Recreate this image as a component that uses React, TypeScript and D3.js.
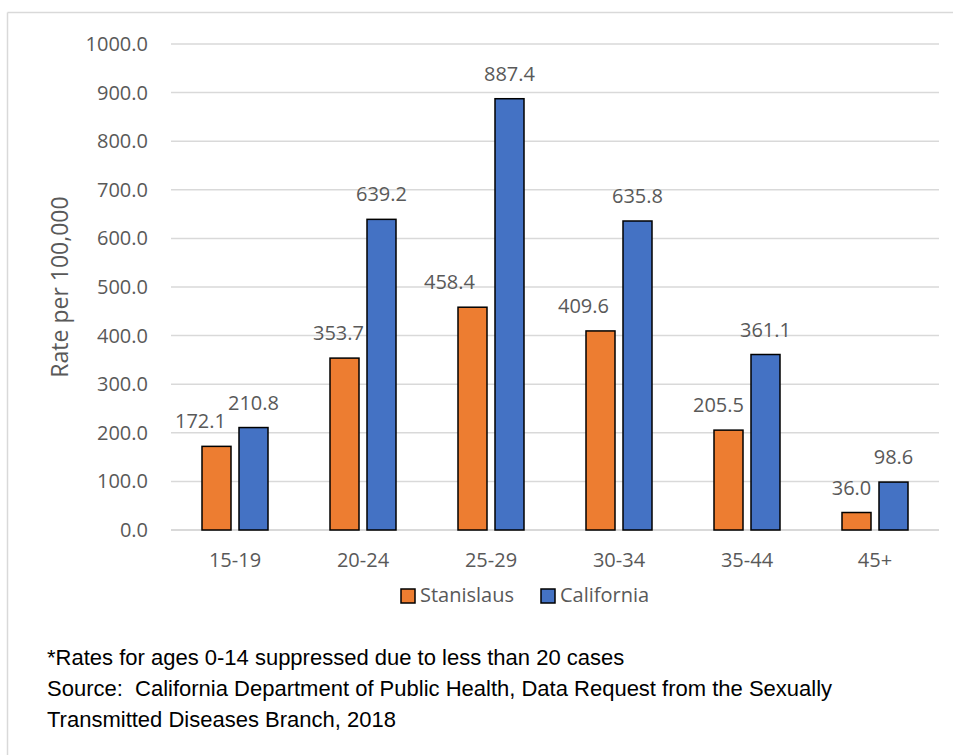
import React from "react";
import * as d3 from "d3";

const categories = ["15-19", "20-24", "25-29", "30-34", "35-44", "45+"];
const seriesNames = ["Stanislaus", "California"];
const stanislaus = [172.1, 353.7, 458.4, 409.6, 205.5, 36.0];
const california = [210.8, 639.2, 887.4, 635.8, 361.1, 98.6];
const yTicks = [0, 100, 200, 300, 400, 500, 600, 700, 800, 900, 1000];
const colors = ["#ED7D31", "#4472C4"];
const stanislausLabelShift = [-16, -6, -23, -17, -10, -5];
const footnotes = [
  "*Rates for ages 0-14 suppressed due to less than 20 cases",
  "Source:  California Department of Public Health, Data Request from the Sexually",
  "Transmitted Diseases Branch, 2018",
];

const W = 953;
const H = 755;
const plot = { left: 171, right: 939, top: 44, bottom: 530 };
const font = "'Open Sans', sans-serif";
const grey = "#595959";

export default function App() {
  const x0 = d3.scaleBand<string>().domain(categories).range([plot.left, plot.right]).padding(0);
  const x1 = d3
    .scaleBand<string>()
    .domain(seriesNames)
    .range([27, 101])
    .paddingInner(8 / 37)
    .paddingOuter(4 / 37);
  const y = d3.scaleLinear().domain([0, 1000]).range([plot.bottom, plot.top]);
  const values = [stanislaus, california];
  const bw = x1.bandwidth();

  return (
    <svg width={W} height={H} style={{ position: "absolute", left: 0, top: 0, background: "#fff" }}>
      <rect x={0} y={0} width={W} height={H} fill="#fff" />
      {/* frame */}
      <line x1={7.5} x2={W} y1={12.5} y2={12.5} stroke="#d9d9d9" strokeWidth={1.5} />
      <line x1={7.5} x2={7.5} y1={12.5} y2={H} stroke="#d9d9d9" strokeWidth={1.5} />
      {/* gridlines */}
      {yTicks.map((t) => (
        <line
          key={t}
          x1={plot.left}
          x2={plot.right}
          y1={y(t)}
          y2={y(t)}
          stroke="#d9d9d9"
          strokeWidth={t === 0 ? 2 : 1.5}
        />
      ))}
      {yTicks.map((t) => (
        <text
          key={"l" + t}
          x={148}
          y={y(t)}
          dy="0.35em"
          textAnchor="end"
          fontFamily={font}
          fontSize={20}
          fill={grey}
        >
          {t.toFixed(1)}
        </text>
      ))}
      <text
        transform={`translate(68,287) rotate(-90)`}
        textAnchor="middle"
        fontFamily={font}
        fontSize={23}
        fill={grey}
      >
        Rate per 100,000
      </text>
      {/* bars */}
      {categories.map((c, i) => (
        <g key={c}>
          {seriesNames.map((s, j) => {
            const v = values[j][i];
            const bx = (x0(c) as number) + (x1(s) as number);
            return (
              <rect
                key={s}
                x={bx}
                y={y(v)}
                width={bw}
                height={y(0) - y(v)}
                fill={colors[j]}
                stroke="#000"
                strokeWidth={1.5}
              />
            );
          })}
          <text
            x={(x0(c) as number) + x0.bandwidth() / 2}
            y={567}
            textAnchor="middle"
            fontFamily={font}
            fontSize={20}
            fill={grey}
          >
            {c}
          </text>
        </g>
      ))}
      {/* data labels, on top of all bars */}
      {categories.map((c, i) =>
        seriesNames.map((s, j) => {
          const v = values[j][i];
          const bx = (x0(c) as number) + (x1(s) as number);
          return (
            <text
              key={c + s}
              x={bx + bw / 2 + (j === 0 ? stanislausLabelShift[i] : 0)}
              y={y(v) - 18}
              textAnchor="middle"
              fontFamily={font}
              fontSize={20}
              fill={grey}
            >
              {v.toFixed(1)}
            </text>
          );
        })
      )}
      {/* legend */}
      {seriesNames.map((s, j) => {
        const lx = j === 0 ? 401 : 541;
        return (
          <g key={"lg" + s}>
            <rect x={lx} y={589} width={14} height={14} fill={colors[j]} stroke="#000" strokeWidth={1.5} />
            <text x={lx + 19} y={602} fontFamily={font} fontSize={20} fill={grey}>
              {s}
            </text>
          </g>
        );
      })}
      {/* footnotes */}
      {footnotes.map((f, i) => (
        <text
          key={i}
          x={47}
          y={665 + i * 31}
          fontFamily="'Liberation Sans', Arial, sans-serif"
          fontSize={22}
          fill="#000"
          style={{ whiteSpace: "pre" }}
        >
          {f}
        </text>
      ))}
    </svg>
  );
}
